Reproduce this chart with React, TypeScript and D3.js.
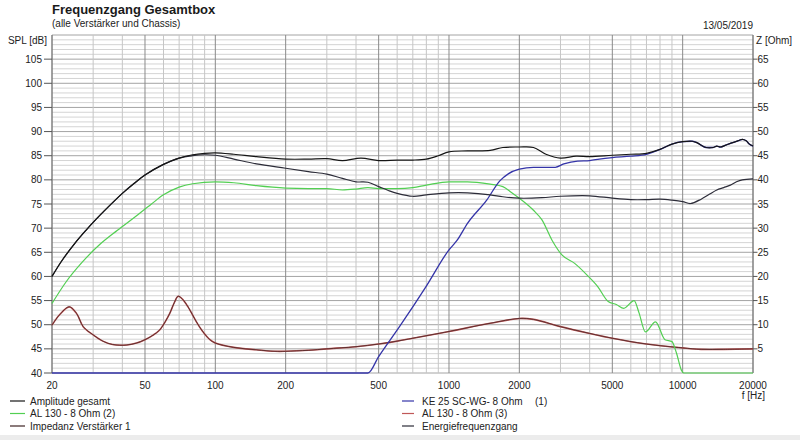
import React from "react";
import * as d3 from "d3";

// ---------- data ----------
const ampFreq = [20, 22, 25, 28, 30, 35, 40, 45, 50, 60, 70, 80, 90, 100, 120, 150, 200, 250, 300, 350, 420, 500, 600, 700, 800, 900, 1000, 1200, 1500, 1700, 2000, 2300, 2600, 3000, 3500, 4000, 5000, 6000, 7000, 8000, 9000, 10000, 11000, 11500, 12600, 13500, 14000, 14500, 15300, 16100, 17500, 18000, 18700, 19300, 20000];
const ampGesamt = [60, 63.2, 66.8, 69.6, 71.2, 74.5, 77.2, 79.3, 81, 83.2, 84.5, 85.2, 85.5, 85.6, 85.3, 84.8, 84.3, 84.3, 84.4, 84.0, 84.5, 84.0, 84.1, 84.1, 84.3, 85.0, 85.8, 86.0, 86.1, 86.7, 86.8, 86.7, 85.3, 84.5, 84.9, 84.8, 85.1, 85.3, 85.5, 86.3, 87.4, 87.9, 88.0, 87.7, 86.7, 86.7, 87.0, 86.8, 87.2, 87.6, 88.2, 88.4, 88.1, 87.4, 87.0];

const energyFreq = [20, 22, 25, 28, 30, 35, 40, 45, 50, 60, 70, 80, 90, 100, 120, 150, 200, 250, 300, 350, 400, 450, 500, 550, 600, 700, 800, 1000, 1200, 1500, 1700, 2000, 2500, 3000, 4000, 5000, 6000, 7000, 8000, 9000, 10000, 10800, 12000, 13000, 14000, 15000, 16000, 17000, 18000, 20000];
const energyResp = [60, 63.2, 66.8, 69.6, 71.2, 74.5, 77.2, 79.3, 81, 83.2, 84.5, 85.0, 85.2, 85.1, 84.3, 83.3, 82.4, 81.7, 81.2, 80.3, 79.6, 79.5, 78.6, 77.8, 77.2, 76.6, 76.9, 77.3, 77.3, 76.9, 76.5, 76.2, 76.3, 76.6, 76.7, 76.2, 75.9, 75.9, 76.0, 75.8, 75.5, 75.1, 76.0, 77.0, 77.9, 78.4, 78.9, 79.6, 80.0, 80.2];

const wooferFreq = [20, 23, 27, 32, 38, 45, 53, 60, 70, 80, 100, 120, 150, 200, 250, 300, 350, 400, 450, 500, 600, 700, 800, 1000, 1200, 1500, 1700, 1850, 2000, 2300, 2500, 2760, 3050, 3450, 3930, 4330, 4800, 5200, 5600, 6200, 6500, 6930, 7650, 8400, 9000, 9400, 9900, 10100, 20000];
const wooferSpl = [54.4, 58.9, 63.0, 66.6, 69.5, 72.2, 74.9, 76.9, 78.5, 79.2, 79.6, 79.4, 78.8, 78.3, 78.2, 78.2, 77.9, 78.1, 78.4, 78.2, 78.2, 78.4, 78.9, 79.6, 79.6, 79.1, 78.6, 77.4, 76.2, 73.7, 71.7, 67.5, 64.4, 62.7, 60.1, 57.9, 54.8, 54.2, 53.4, 55.0, 52.5, 48.5, 50.6, 46.9, 46.5, 44.2, 40.5, 40, 40];

const tweeterFreq = [20, 450, 500, 614, 800, 1000, 1084, 1200, 1450, 1650, 1800, 2000, 2300, 2850, 3100, 3550, 4000, 4400, 5000, 6000, 7000, 8000, 9000, 10000, 11000, 11500, 12600, 13500, 14000, 14500, 15300, 16100, 17500, 18000, 18700, 19300, 20000];
const tweeterSpl = [40, 40, 43.4, 49.6, 58, 65.5, 67.5, 71, 75.8, 79.8, 81.3, 82.2, 82.6, 82.6, 83.3, 83.9, 84.0, 84.3, 84.6, 84.9, 85.3, 86.3, 87.4, 87.9, 88.0, 87.7, 86.7, 86.7, 87.0, 86.8, 87.2, 87.6, 88.2, 88.4, 88.1, 87.4, 87.0];

const impFreq = [20, 21.5, 23.7, 25.5, 27.2, 30, 33, 36.3, 41.8, 46, 50, 54, 57.8, 61, 63.9, 66.8, 69.3, 72, 76.4, 83, 88, 94.8, 100, 120, 150, 180, 200, 250, 300, 400, 500, 600, 700, 1000, 1500, 2000, 2300, 3000, 4000, 5000, 7000, 10000, 12000, 15000, 20000];
const impOhm = [9.9, 12, 13.7, 12.3, 9.6, 7.9, 6.6, 5.9, 5.8, 6.2, 6.9, 7.8, 8.9, 10.6, 12.4, 14.6, 15.9, 15.4, 13.7, 10.6, 8.7, 6.9, 6.2, 5.3, 4.8, 4.5, 4.5, 4.7, 5.0, 5.45, 6.0, 6.6, 7.2, 8.6, 10.3, 11.3, 11.1, 9.6, 8.2, 7.2, 6.0, 5.2, 4.9, 4.9, 5.0];

const freqTickLabels = [20, 50, 100, 200, 500, 1000, 2000, 5000, 10000, 20000];
const splTicks = [40, 45, 50, 55, 60, 65, 70, 75, 80, 85, 90, 95, 100, 105];
const ohmTicks = [5, 10, 15, 20, 25, 30, 35, 40, 45, 50, 55, 60, 65];

const legendLeft = ["Amplitude gesamt", "AL 130 - 8 Ohm (2)", "Impedanz Verstärker 1"];
const legendRight = ["KE 25 SC-WG- 8 Ohm", "AL 130 - 8 Ohm (3)", "Energiefrequenzgang"];

// ---------- layout ----------
const W = 800;
const H = 440;
const X0 = 52, X1 = 753, Y0 = 373, Y1 = 35;
const FONT = "'Liberation Sans', Arial, sans-serif";

const C_AMP = "#161616";
const C_ENERGY = "#2c2c38";
const C_WOOF = "#52cf52";
const C_TWEET = "#3434a8";
const C_IMP_RED = "#c05858";
const C_IMP_DARK = "#3e2424";

export default function App() {
  const x = d3.scaleLog().domain([20, 20000]).range([X0, X1]);
  const y = d3.scaleLinear().domain([40, 110]).range([Y0, Y1]);
  const z = d3.scaleLinear().domain([0, 70]).range([Y0, Y1]);

  const mk = (fs: number[], vs: number[], sc: d3.ScaleLinear<number, number>) =>
    d3
      .line<number>()
      .x((_, i) => x(fs[i]))
      .y((v) => sc(v))
      .curve(d3.curveMonotoneX)(vs) || "";

  const mkSmooth = (fs: number[], vs: number[], sc: d3.ScaleLinear<number, number>) =>
    d3
      .line<number>()
      .x((_, i) => x(fs[i]))
      .y((v) => sc(v))
      .curve(d3.curveCatmullRom.alpha(0.5))(vs) || "";

  // grid
  const hLines: number[] = d3.range(40, 111, 1);
  const vLines: number[] = [];
  [10, 100, 1000, 10000].forEach((dec) => {
    for (let m = 1; m <= 9; m++) {
      const f = dec * m;
      if (f >= 20 && f <= 20000) vLines.push(f);
    }
  });
  const isMajorF = (f: number) => {
    const m = Math.round(f / Math.pow(10, Math.floor(Math.log10(f) + 1e-9)));
    return m === 1 || m === 2 || m === 5;
  };

  return (
    <svg
      width={W}
      height={H}
      style={{ position: "absolute", left: 0, top: 0, background: "#ffffff" }}
      fontFamily={FONT}
    >
      <rect x={0} y={0} width={W} height={H} fill="#ffffff" />
      <rect x={0} y={435} width={W} height={5} fill="#ececec" />

      {/* horizontal grid */}
      {hLines.map((v) => (
        <line
          key={"h" + v}
          x1={X0}
          x2={X1}
          y1={y(v)}
          y2={y(v)}
          stroke={v % 5 === 0 ? "#a4a4a4" : "#d4d4d4"}
          strokeWidth={1}
        />
      ))}
      {/* vertical grid */}
      {vLines.map((f) => (
        <line
          key={"v" + f}
          x1={x(f)}
          x2={x(f)}
          y1={Y1}
          y2={Y0}
          stroke={isMajorF(f) ? "#8a8a8a" : "#c6c6c6"}
          strokeWidth={1}
        />
      ))}
      <line x1={X0} x2={X0} y1={Y1} y2={Y0} stroke="#7a7a7a" />
      <line x1={X1} x2={X1} y1={Y1} y2={Y0} stroke="#7a7a7a" />

      {/* left axis */}
      {splTicks.map((v) => (
        <g key={"l" + v}>
          <line x1={44} x2={X0} y1={y(v)} y2={y(v)} stroke="#555" />
          <text x={42} y={y(v)} dy="0.35em" fontSize={10} textAnchor="end" fill="#222">
            {v}
          </text>
        </g>
      ))}
      {/* right axis */}
      {ohmTicks.map((v) => (
        <g key={"r" + v}>
          <line x1={X1} x2={757.5} y1={z(v)} y2={z(v)} stroke="#555" />
          <text x={757.5} y={z(v)} dy="0.35em" fontSize={10} textAnchor="start" fill="#222">
            {v}
          </text>
        </g>
      ))}
      {/* bottom labels */}
      {freqTickLabels.map((f) => (
        <text key={"b" + f} x={x(f)} y={388.5} fontSize={10} textAnchor="middle" fill="#222">
          {f}
        </text>
      ))}

      {/* curves */}
      <path d={mkSmooth(impFreq, impOhm, z)} fill="none" stroke={C_IMP_RED} strokeWidth={1.6} />
      <path d={mkSmooth(impFreq, impOhm, z)} fill="none" stroke={C_IMP_DARK} strokeWidth={0.9} opacity={0.85} />
      <path d={mk(wooferFreq, wooferSpl, y)} fill="none" stroke={C_WOOF} strokeWidth={1.2} />
      <path d={mk(tweeterFreq, tweeterSpl, y)} fill="none" stroke={C_TWEET} strokeWidth={1.3} />
      <path d={mkSmooth(energyFreq, energyResp, y)} fill="none" stroke={C_ENERGY} strokeWidth={1.2} />
      <path d={mkSmooth(ampFreq, ampGesamt, y)} fill="none" stroke={C_AMP} strokeWidth={1.2} />

      {/* titles */}
      <text x={52} y={14} fontSize={13} fontWeight="bold" fill="#1a1a1a">
        Frequenzgang Gesamtbox
      </text>
      <text x={52} y={27} fontSize={10} fill="#222">
        (alle Verstärker und Chassis)
      </text>
      <text x={753} y={29} fontSize={10} textAnchor="end" fill="#222">
        13/05/2019
      </text>
      <text x={47} y={44} fontSize={10} textAnchor="end" fill="#222">
        SPL [dB]
      </text>
      <text x={756} y={44} fontSize={10} fill="#222">
        Z [Ohm]
      </text>
      <text x={765} y={399} fontSize={10} textAnchor="end" fill="#222">
        f [Hz]
      </text>

      {/* legend */}
      {legendLeft.map((t, i) => {
        const cy = 401 + i * 12.5;
        const col = [C_AMP, C_WOOF, C_IMP_DARK][i];
        return (
          <g key={"ll" + i}>
            <line x1={10} x2={25} y1={cy} y2={cy} stroke={col} strokeWidth={1.2} />
            <text x={30} y={cy} dy="0.35em" fontSize={10} fill="#222">
              {t}
            </text>
          </g>
        );
      })}
      {legendRight.map((t, i) => {
        const cy = 401 + i * 12.5;
        const col = [C_TWEET, C_IMP_RED, C_ENERGY][i];
        return (
          <g key={"lr" + i}>
            <line x1={402} x2={414} y1={cy} y2={cy} stroke={col} strokeWidth={1.2} />
            <text x={422} y={cy} dy="0.35em" fontSize={10} fill="#222">
              {t}
            </text>
            {i === 0 && (
              <text x={535} y={cy} dy="0.35em" fontSize={10} fill="#222">
                (1)
              </text>
            )}
          </g>
        );
      })}
    </svg>
  );
}
